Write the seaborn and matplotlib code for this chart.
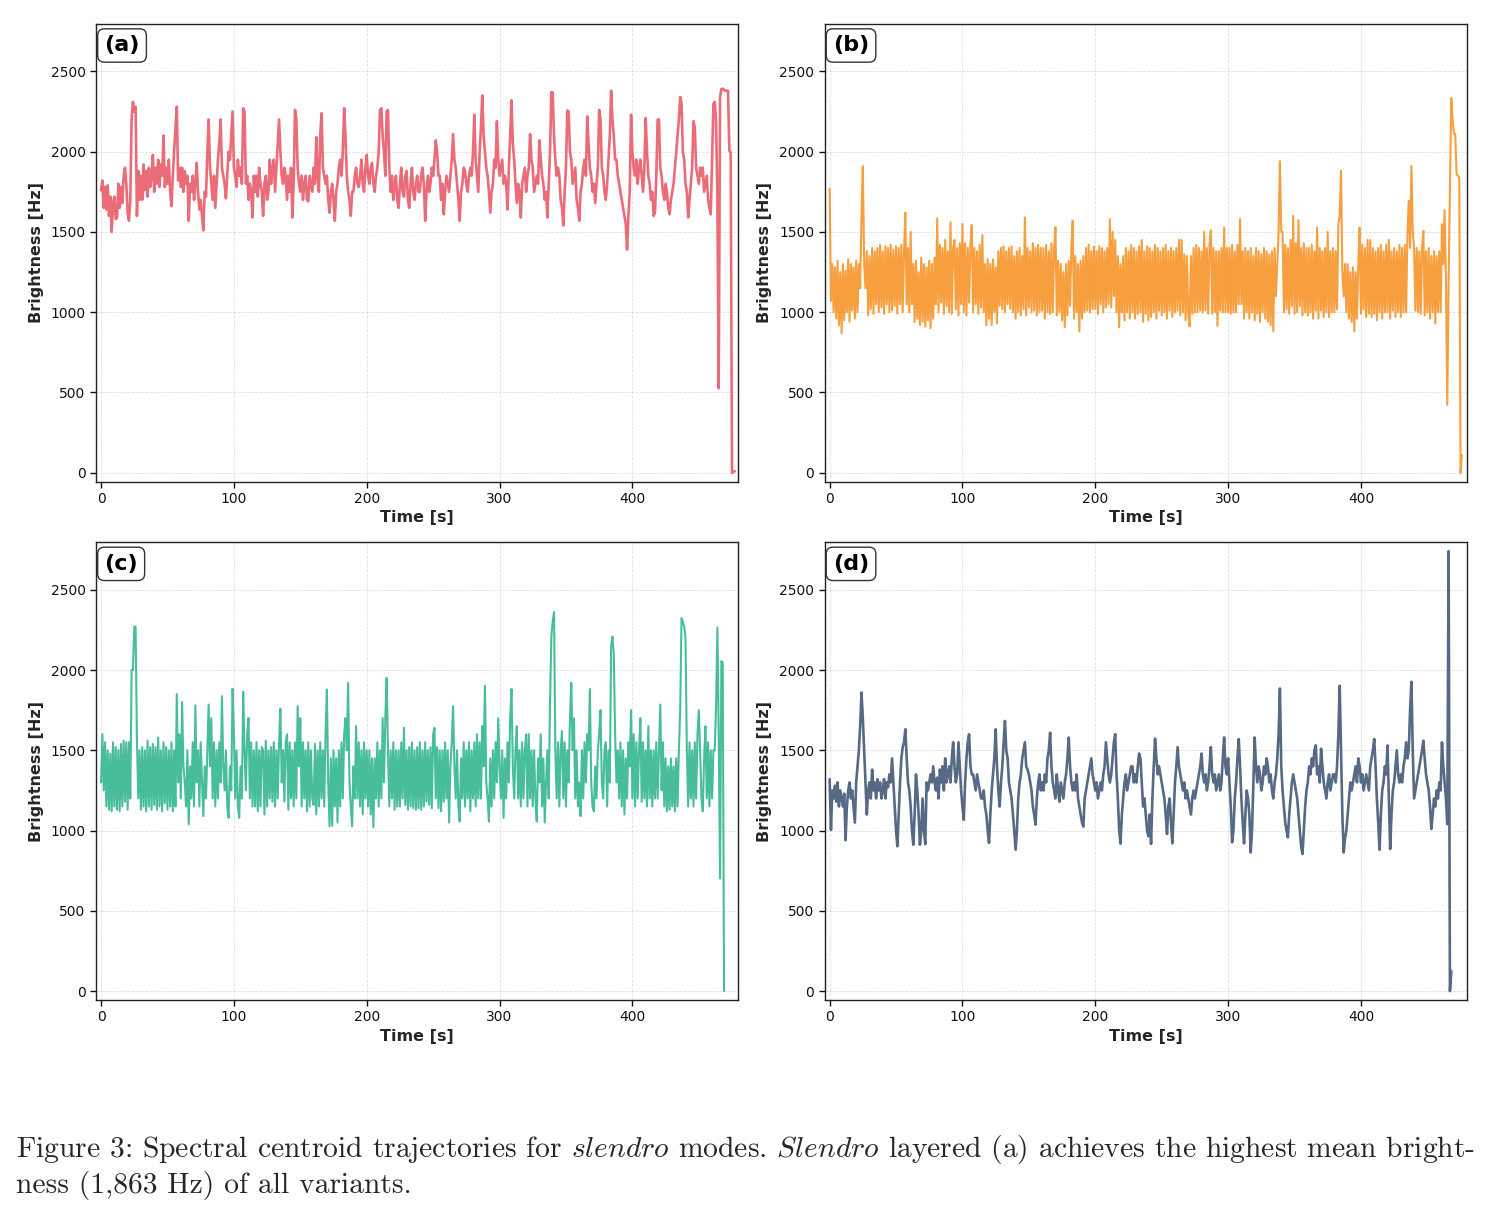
import numpy as np
import pandas as pd
import matplotlib
matplotlib.use('Agg')
import matplotlib.pyplot as plt
import seaborn as sns

# spectral centroid, one sample per second
STEP = 1.0

brightness_a = [
    1760, 1820, 1650, 1780, 1640, 1790, 1600, 1720, 1500, 1680, 1720, 1580, 1590, 1800, 1650, 1780, 1680, 1850, 1900, 1800,
    1620, 1570, 1700, 2200, 2310, 2250, 2280, 1600, 1880, 1700, 1850, 1700, 1920, 1760, 1880, 1720, 1900, 1780, 1850, 1980,
    1750, 1900, 1800, 1950, 1780, 1920, 1850, 2100, 1780, 1900, 1800, 1950, 1750, 1660, 1850, 2000, 2150, 2280, 1820, 1900,
    1780, 1900, 1750, 1880, 1800, 1850, 1570, 1800, 1750, 1850, 1700, 1800, 1930, 1750, 1640, 1700, 1600, 1510, 1750, 1720,
    2000, 2200, 1900, 1800, 1700, 1850, 1650, 1800, 1950, 2050, 2200, 1900, 1850, 1800, 1710, 1850, 2000, 1950, 2100, 2250,
    1900, 1850, 1780, 1950, 1850, 1900, 1800, 2270, 2250, 1800, 1850, 1700, 1800, 1750, 1590, 1850, 1750, 1850, 1720, 1900,
    1800, 1750, 1600, 1800, 1850, 1700, 1750, 1950, 1800, 1900, 1950, 1750, 1900, 2050, 2200, 2000, 1850, 1800, 1900, 1850,
    1700, 1850, 1750, 1900, 1590, 1800, 2260, 2200, 1900, 1800, 1750, 1850, 1700, 1800, 1850, 1700, 1690, 1850, 1800, 1750,
    1900, 1800, 2090, 1850, 1750, 2100, 2240, 1900, 1850, 1800, 1850, 1700, 1620, 1750, 1800, 1700, 1570, 1750, 1800, 1900,
    1950, 1850, 2000, 2270, 2100, 1850, 1750, 1700, 1600, 1750, 1750, 1850, 1900, 1800, 1780, 1850, 1950, 1800, 1750, 1900,
    1980, 1850, 1800, 1900, 1930, 1800, 1750, 1850, 1900, 2000, 2260, 2270, 2100, 2000, 1850, 2250, 2260, 1900, 1750, 1850,
    1700, 1800, 1850, 1700, 1650, 1800, 1900, 1750, 1720, 1850, 1880, 1700, 1650, 1800, 1900, 1750, 1700, 1800, 1850, 1750,
    1750, 1850, 1900, 1800, 1570, 1750, 1850, 1750, 1800, 1900, 1850, 1950, 2070, 2000, 1850, 1850, 1700, 1800, 1610, 1750,
    1850, 1800, 1750, 1850, 1950, 2110, 1950, 1900, 1800, 1700, 1570, 1750, 1800, 1900, 1880, 1800, 1750, 1850, 1900, 1850,
    2000, 2230, 1950, 1850, 1750, 2000, 2150, 2350, 2100, 2000, 1900, 1850, 1750, 1620, 1750, 1800, 1950, 1900, 2190, 1950,
    1850, 1900, 1950, 1800, 1850, 1800, 1640, 1900, 2100, 2320, 2050, 1950, 1800, 1680, 1800, 1750, 1590, 1800, 1850, 1900,
    1750, 1850, 1900, 2110, 1950, 1900, 1750, 1800, 1850, 1800, 2070, 1950, 1850, 1800, 1700, 1750, 1590, 1800, 2000, 2370,
    2370, 2100, 1950, 1850, 1900, 1850, 1700, 1650, 1540, 1750, 1900, 2256, 2250, 2000, 1950, 1800, 1850, 1900, 1700, 1650,
    1570, 1750, 1800, 1900, 1950, 1850, 2220, 2050, 1900, 1850, 1750, 1800, 1680, 1800, 1900, 2260, 2200, 1900, 1850, 1750,
    1700, 1800, 1950, 2100, 2380, 2200, 2100, 1950, 1950, 1850, 1800, 1750, 1700, 1650, 1600, 1550, 1390, 1600, 1750, 2230,
    2000, 1900, 1850, 1950, 1800, 1900, 1950, 1850, 1750, 1900, 2210, 2000, 1850, 1800, 1700, 1750, 1600, 1620, 1850, 2200,
    2200, 1900, 1850, 1750, 1700, 1800, 1750, 1650, 1610, 1700, 1750, 1800, 1900, 2000, 2100, 2200, 2340, 2300, 2000, 1950,
    1800, 1750, 1590, 1700, 1800, 1900, 2190, 2150, 1900, 1850, 1800, 1900, 1850, 1900, 1750, 1800, 1850, 1700, 1650, 1610,
    1950, 2300, 2310, 2190, 1700, 527, 2340, 2390, 2392, 2385, 2380, 2380, 2380, 2006, 1996, 0, 5, 10,
]

brightness_b = [
    1770, 1070, 1300, 1000, 1280, 960, 1320, 920, 1250, 870, 1300, 950, 1260, 1000, 1330, 940, 1300, 1010, 1280, 960,
    1320, 1000, 1300, 1150, 1600, 1910, 1300, 1150, 1380, 980, 1350, 1020, 1400, 990, 1380, 1050, 1400, 1000, 1420, 1030,
    1380, 990, 1410, 1050, 1400, 1000, 1420, 1010, 1390, 1040, 1410, 990, 1400, 1050, 1420, 1000, 1380, 1620, 1050, 1400,
    1000, 1500, 1050, 1300, 940, 1320, 960, 1250, 920, 1340, 940, 1300, 910, 1280, 950, 1320, 900, 1300, 960, 1340,
    1050, 1585, 1000, 1420, 1060, 1400, 990, 1450, 1040, 1380, 1000, 1560, 990, 1400, 1450, 1020, 1400, 980, 1430, 1050,
    1550, 1000, 1430, 980, 1400, 1060, 1420, 1544, 1000, 1400, 1050, 1380, 990, 1420, 1030, 1480, 1000, 1300, 920, 1330,
    960, 1300, 920, 1330, 1000, 1280, 930, 1380, 1040, 1400, 1020, 1410, 1000, 1380, 1050, 1400, 1020, 1410, 1000, 1350,
    960, 1380, 1000, 1400, 980, 1350, 1020, 1590, 980, 1400, 1030, 1380, 1000, 1430, 1010, 1400, 980, 1420, 1000, 1400,
    1010, 1400, 960, 1420, 1000, 1380, 990, 1430, 1000, 1400, 1530, 980, 1320, 1000, 1300, 950, 1250, 906, 1300, 980,
    1320, 1040, 1400, 1570, 960, 1350, 1000, 1300, 880, 1320, 960, 1350, 1000, 1400, 1010, 1420, 1000, 1380, 1020, 1410,
    1020, 1380, 990, 1410, 1050, 1400, 1000, 1380, 1030, 1400, 1050, 1580, 1030, 1500, 1100, 1450, 1000, 1350, 906, 1300,
    1000, 1350, 950, 1400, 1000, 1380, 960, 1420, 1000, 1400, 960, 1380, 990, 1410, 1000, 1450, 940, 1380, 990, 1410,
    950, 1400, 970, 1380, 1000, 1420, 960, 1400, 1010, 1380, 980, 1400, 1000, 1420, 960, 1380, 1010, 1400, 970, 1380,
    1000, 1400, 1010, 1450, 980, 1450, 1000, 1360, 950, 1350, 990, 912, 1350, 990, 1400, 1000, 1420, 1000, 1400, 1010,
    1380, 1000, 1500, 1010, 1400, 990, 1420, 1510, 990, 1400, 1000, 1380, 915, 1380, 1010, 1400, 1000, 1527, 1000, 1400,
    1000, 1400, 990, 1420, 1000, 1380, 1000, 1420, 1050, 1580, 1050, 1380, 960, 1400, 1000, 1380, 960, 1400, 1000, 1350,
    950, 1400, 990, 1380, 940, 1360, 1000, 1400, 960, 1380, 940, 1360, 920, 1380, 881, 1400, 1100, 1300, 1500, 1940,
    1500, 1500, 1000, 1420, 1020, 1400, 990, 1450, 1040, 1600, 990, 1430, 1000, 1573, 1040, 1400, 980, 1430, 1000, 1400,
    980, 1400, 1000, 1420, 960, 1380, 1010, 1527, 960, 1400, 1010, 1380, 970, 1400, 1000, 1500, 970, 1380, 1000, 1400,
    1000, 1380, 1020, 1550, 1600, 1881, 1250, 1100, 1300, 1000, 1300, 960, 1250, 940, 1280, 881, 1250, 960, 1300, 1527,
    990, 1420, 1020, 1400, 970, 1450, 990, 1450, 970, 1400, 990, 1380, 950, 1400, 1000, 1420, 960, 1380, 1000, 1420,
    1000, 1450, 960, 1380, 1010, 1400, 970, 1380, 1000, 1420, 970, 1400, 1000, 1420, 1000, 1480, 1694, 1400, 1912, 1500,
    1400, 1010, 1400, 1000, 1380, 990, 1400, 1506, 980, 1380, 1000, 1400, 960, 1350, 1000, 1380, 930, 1350, 1000, 1380,
    1000, 1548, 1300, 1637, 1194, 423, 1200, 1777, 2335, 2200, 2110, 2110, 1860, 1850, 1840, 0, 110,
]

brightness_c = [
    1300, 1600, 1250, 1550, 1150, 1500, 1130, 1480, 1120, 1550, 1150, 1520, 1130, 1500, 1120, 1540, 1150, 1560, 1180, 1550,
    1130, 1550, 1200, 2000, 2000, 2270, 2270, 1570, 1200, 1500, 1130, 1520, 1150, 1500, 1120, 1560, 1150, 1520, 1130, 1540,
    1160, 1520, 1130, 1580, 1150, 1500, 1120, 1550, 1170, 1520, 1130, 1500, 1150, 1550, 1120, 1500, 1150, 1850, 1300, 1600,
    1200, 1800, 1400, 1300, 1150, 1500, 1040, 1400, 1200, 1550, 1150, 1780, 1300, 1500, 1150, 1550, 1300, 1090, 1400, 1200,
    1500, 1785, 1400, 1700, 1200, 1550, 1150, 1500, 1200, 1550, 1300, 1837, 1400, 1250, 1500, 1150, 1080, 1400, 1250, 1883,
    1600, 1200, 1500, 1150, 1080, 1400, 1200, 1864, 1500, 1250, 1600, 1700, 1200, 1550, 1150, 1500, 1150, 1550, 1120, 1500,
    1150, 1520, 1500, 1100, 1560, 1150, 1500, 1200, 1520, 1180, 1550, 1150, 1500, 1200, 1550, 1758, 1300, 1500, 1180, 1550,
    1600, 1130, 1550, 1200, 1500, 1150, 1550, 1200, 1775, 1400, 1700, 1150, 1550, 1200, 1500, 1120, 1550, 1150, 1500, 1200,
    1160, 1540, 1100, 1500, 1150, 1550, 1200, 1500, 1150, 1600, 1879, 1300, 1027, 1450, 1030, 1500, 1150, 1450, 1050, 1500,
    1150, 1550, 1200, 1600, 1700, 1500, 1921, 1300, 1150, 1027, 1400, 1200, 1650, 1200, 1550, 1150, 1500, 1100, 1550, 1200,
    1500, 1150, 1500, 1100, 1450, 1021, 1450, 1200, 1550, 1150, 1500, 1200, 1700, 1300, 1700, 1952, 1500, 1150, 1500, 1200,
    1550, 1130, 1500, 1150, 1500, 1150, 1550, 1200, 1640, 1160, 1500, 1130, 1520, 1150, 1550, 1140, 1500, 1130, 1520, 1140,
    1550, 1130, 1500, 1150, 1550, 1180, 1500, 1160, 1520, 1140, 1600, 1640, 1200, 1520, 1140, 1500, 1120, 1500, 1180, 1550,
    1200, 1500, 1050, 1400, 1550, 1775, 1400, 1200, 1500, 1150, 1056, 1450, 1200, 1550, 1150, 1500, 1200, 1550, 1120, 1500,
    1200, 1550, 1150, 1600, 1200, 1550, 1200, 1650, 1400, 1902, 1300, 1200, 1056, 1450, 1150, 1500, 1200, 1550, 1300, 1700,
    1400, 1200, 1500, 1080, 1450, 1200, 1550, 1300, 1700, 1881, 1400, 1200, 1500, 1650, 1200, 1500, 1150, 1550, 1200, 1500,
    1600, 1150, 1600, 1200, 1500, 1150, 1500, 1200, 1056, 1450, 1300, 1600, 1150, 1450, 1050, 1300, 1500, 1200, 1800, 2212,
    2300, 2362, 1500, 1200, 1550, 1150, 1500, 1620, 1200, 1550, 1150, 1500, 1300, 1700, 1921, 1500, 1700, 1200, 1500, 1150,
    1300, 1090, 1500, 1200, 1550, 1300, 1600, 1500, 1881, 1300, 1150, 1120, 1400, 1200, 1500, 1600, 1750, 1300, 1200, 1500,
    1550, 1150, 1500, 1300, 2150, 2208, 2100, 1600, 1300, 1500, 1200, 1550, 1150, 1500, 1100, 1450, 1200, 1550, 1400, 1750,
    1200, 1600, 1150, 1550, 1200, 1500, 1700, 1180, 1550, 1200, 1500, 1150, 1650, 1200, 1500, 1150, 1500, 1200, 1550, 1200,
    1500, 1785, 1250, 1550, 1150, 1450, 1120, 1400, 1130, 1450, 1150, 1400, 1120, 1450, 1150, 1500, 1750, 2323, 2300, 2269,
    2200, 1500, 1150, 1550, 1200, 1500, 1150, 1550, 1200, 1600, 1750, 1500, 1200, 1120, 1450, 1650, 1200, 1550, 1150, 1500,
    1200, 1500, 1500, 1775, 2265, 1600, 702, 2056, 2046, 0,
]

brightness_d = [
    1320, 1004, 1250, 1200, 1280, 1180, 1300, 1150, 1250, 1200, 1150, 1230, 940, 1150, 1250, 1300, 1200, 1250, 1150, 1050,
    1300, 1400, 1500, 1650, 1860, 1700, 1500, 1300, 1100, 1250, 1300, 1200, 1380, 1250, 1300, 1200, 1320, 1250, 1300, 1200,
    1250, 1320, 1200, 1300, 1270, 1350, 1300, 1450, 1300, 1150, 1000, 902, 1100, 1300, 1450, 1520, 1550, 1631, 1450, 1300,
    1250, 1150, 1000, 912, 1100, 1350, 1250, 1100, 912, 1000, 1200, 1000, 915, 1300, 1250, 1300, 1350, 1300, 1400, 1300,
    1250, 1330, 1200, 1380, 1300, 1400, 1250, 1450, 1300, 1350, 1400, 1300, 1450, 1550, 1400, 1300, 1350, 1550, 1400, 1250,
    1150, 1067, 1300, 1450, 1550, 1600, 1400, 1350, 1350, 1300, 1250, 1350, 1300, 1250, 1200, 1200, 1250, 1150, 1100, 1000,
    923, 1100, 1250, 1350, 1450, 1631, 1400, 1250, 1150, 1300, 1400, 1550, 1683, 1500, 1450, 1300, 1250, 1200, 1100, 1000,
    881, 1000, 1200, 1300, 1350, 1450, 1500, 1550, 1400, 1380, 1350, 1300, 1250, 1150, 1100, 1037, 1200, 1300, 1350, 1250,
    1300, 1250, 1350, 1300, 1450, 1500, 1610, 1400, 1300, 1250, 1200, 1350, 1250, 1180, 1300, 1250, 1200, 1300, 1350, 1450,
    1580, 1400, 1300, 1250, 1300, 1250, 1350, 1200, 1150, 1100, 1050, 1025, 1200, 1250, 1300, 1350, 1400, 1450, 1350, 1300,
    1250, 1300, 1200, 1250, 1300, 1250, 1350, 1400, 1550, 1450, 1350, 1300, 1350, 1450, 1550, 1600, 1350, 1200, 1000, 919,
    1100, 1200, 1300, 1350, 1250, 1300, 1350, 1400, 1400, 1300, 1350, 1300, 1400, 1480, 1450, 1300, 1150, 1200, 1100, 1000,
    965, 1100, 917, 1200, 1400, 1573, 1450, 1350, 1400, 1350, 1300, 1250, 1200, 1100, 979, 1150, 1200, 1050, 921, 1100,
    1300, 1400, 1520, 1400, 1350, 1300, 1250, 1300, 1200, 1250, 1200, 1150, 1100, 1200, 1250, 1200, 1250, 1300, 1350, 1400,
    1480, 1350, 1300, 1350, 1250, 1300, 1400, 1520, 1350, 1300, 1350, 1250, 1300, 1350, 1250, 1300, 1450, 1580, 1400, 1350,
    1450, 1300, 1150, 927, 1000, 1200, 1300, 1450, 1570, 1400, 1200, 1050, 920, 1100, 1250, 1200, 1100, 864, 1000, 1300,
    1580, 1400, 1300, 1400, 1350, 1250, 1300, 1400, 1350, 1450, 1400, 1300, 1350, 1250, 1200, 1300, 1350, 1450, 1600, 1885,
    1400, 1250, 1150, 1050, 1000, 958, 1100, 1200, 1300, 1350, 1300, 1250, 1200, 1100, 1000, 900, 854, 1000, 1150, 1250,
    1300, 1400, 1350, 1450, 1400, 1500, 1531, 1350, 1400, 1300, 1510, 1400, 1300, 1250, 1200, 1300, 1350, 1250, 1300, 1350,
    1350, 1300, 1400, 1600, 1902, 1500, 1100, 864, 950, 1000, 1100, 1200, 1300, 1250, 1300, 1350, 1400, 1300, 1450, 1400,
    1300, 1350, 1250, 1300, 1350, 1300, 1250, 1400, 1450, 1500, 1570, 1400, 1200, 1050, 880, 1100, 1250, 1300, 1400, 1350,
    1530, 1200, 885, 1100, 1250, 1300, 1400, 1500, 1350, 1300, 1350, 1300, 1400, 1450, 1550, 1450, 1500, 1750, 1927, 1500,
    1200, 1250, 1300, 1350, 1400, 1450, 1500, 1560, 1450, 1350, 1300, 1250, 1150, 1010, 1100, 1200, 1150, 1250, 1200, 1300,
    1250, 1550, 1400, 1300, 1200, 1040, 2740, 0, 125,
]

panel_labels = ['(a)', '(b)', '(c)', '(d)']
line_colors = ['#EA5F6E', '#F7962E', '#38B894', '#475C7B']
line_widths = [1.9, 1.5, 1.5, 1.9]

caption_1 = (r'Figure 3: Spectral centroid trajectories for $\mathit{slendro}$ modes. '
             r'$\mathit{Slendro}$ layered (a) achieves the highest mean bright-')
caption_2 = 'ness (1,863 Hz) of all variants.'

sns.set_theme(style='ticks')
plt.rcParams['font.family'] = ['DejaVu Sans']
plt.rcParams['mathtext.fontset'] = 'cm'

fig, axes = plt.subplots(2, 2, figsize=(14.93, 12.15), dpi=100)
fig.subplots_adjust(left=0.0643, right=0.9826, top=0.9802, bottom=0.177,
                    wspace=0.134, hspace=0.133)

series = [brightness_a, brightness_b, brightness_c, brightness_d]
t_end = max((len(s) - 1) * STEP for s in series)
y_top = max(max(s) for s in series)

for ax, vals, lab, col, lw in zip(axes.flat, series, panel_labels, line_colors, line_widths):
    df = pd.DataFrame({'time': np.arange(len(vals)) * STEP, 'brightness': vals})
    sns.lineplot(data=df, x='time', y='brightness', color=col, lw=lw,
                 alpha=0.92, ax=ax)
    ax.set_xlim(-0.008 * t_end, t_end * 1.006)
    ax.set_ylim(-0.02 * y_top, y_top * 1.02)
    ax.set_xticks([0, 100, 200, 300, 400])
    ax.set_yticks([0, 500, 1000, 1500, 2000, 2500])
    ax.grid(True, ls='--', lw=0.6, color='#cccccc', alpha=0.6)
    ax.set_xlabel('Time [s]', fontsize=11.5, fontweight='bold', labelpad=3)
    ax.set_ylabel('Brightness [Hz]', fontsize=11.5, fontweight='bold', labelpad=5)
    ax.tick_params(labelsize=10, length=4, width=1, colors='#111111')
    for sp in ax.spines.values():
        sp.set_visible(True)
        sp.set_color('#222222')
        sp.set_linewidth(1.0)
    ax.text(0.013, 0.975, lab, transform=ax.transAxes, fontsize=16,
            fontweight='bold', va='top', ha='left', color='black',
            bbox=dict(boxstyle='round,pad=0.3', facecolor='white',
                      edgecolor='#333333', lw=1.0))

fig.text(16 / 1493, 1 - 1157 / 1215, caption_1, family='cmr10',
         fontsize=21.3, va='baseline', ha='left')
fig.text(16 / 1493, 1 - 1193 / 1215, caption_2, family='cmr10',
         fontsize=21.3, va='baseline', ha='left')

fig.savefig('out.png', dpi=100)
